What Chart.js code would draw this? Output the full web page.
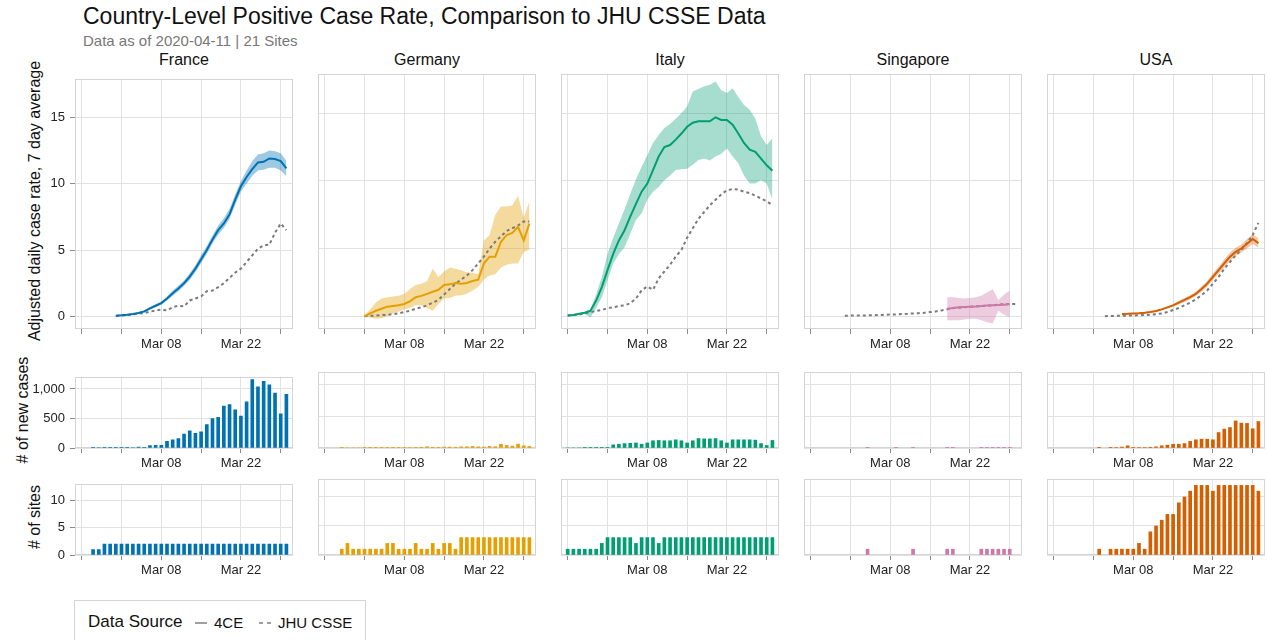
<!DOCTYPE html>
<html>
<head>
<meta charset="utf-8">
<script src="https://cdn.jsdelivr.net/npm/chart.js@4.4.1/dist/chart.umd.min.js"></script>
<style>
  body { margin: 0; width: 1267px; height: 640px; overflow: hidden; background: #fff; position: relative;
         font-family: 'Liberation Sans', Arial, sans-serif; }
  canvas { position: absolute; }
  .txt { position: absolute; white-space: nowrap; line-height: 1; color: #111; }
  .ytitle { position: absolute; width: 300px; height: 16px; line-height: 16px; font-size: 16px;
            text-align: center; transform: rotate(-90deg); white-space: nowrap; color: #111; }
  .facet { position: absolute; width: 218px; text-align: center; font-size: 16px; line-height: 1; top: 52px; color: #111; }
  #legend { position: absolute; left: 74px; top: 600px; width: 290px; height: 60px; border: 1px solid #d4d4d4; }
  .seg { position: absolute; top: 21px; height: 2px; background: #a0a0a0; }
</style>
</head>
<body>
<div class="txt" style="left:83px;top:5px;font-size:23px;">Country-Level Positive Case Rate, Comparison to JHU CSSE Data</div>
<div class="txt" style="left:83px;top:33px;font-size:15px;color:#777;">Data as of 2020-04-11 | 21 Sites</div>

<div class="ytitle" style="left:-115px;top:193px;">Adjusted daily case rate, 7 day average</div>
<div class="ytitle" style="left:-127px;top:402px;"># of new cases</div>
<div class="ytitle" style="left:-115px;top:509px;"># of sites</div>

<div id="legend">
  <div class="txt" style="left:13px;top:12px;font-size:17px;">Data Source</div>
  <div class="seg" style="left:120px;width:12px;"></div>
  <div class="txt" style="left:139px;top:14px;font-size:15px;">4CE</div>
  <div class="seg" style="left:184px;width:4px;"></div>
  <div class="seg" style="left:192px;width:4px;"></div>
  <div class="txt" style="left:203px;top:14px;font-size:15px;">JHU CSSE</div>
</div>

<script>
// x axis: day index, 0 = Feb 23 2020
const tickDays = [0, 7, 14, 21, 28, 35];
const tickLabels = ['', '', 'Mar 08', '', 'Mar 22', ''];

const countries = ['France', 'Germany', 'Italy', 'Singapore', 'USA'];
const countryColors = ['#0072B2', '#E69F00', '#009E73', '#CC79A7', '#D55E00'];
const bandColors = ['rgba(0,114,178,0.38)', 'rgba(230,159,0,0.38)', 'rgba(0,158,115,0.35)',
                    'rgba(204,121,167,0.38)', 'rgba(213,94,0,0.35)'];

// 4CE adjusted daily case rate (7 day avg) with interval, first day of each series
const franceRateStart = 6;
const franceRate = [0.05,0.08,0.12,0.18,0.25,0.38,0.6,0.8,1.0,1.35,1.75,2.1,2.5,3.0,3.6,4.3,5.0,5.8,6.5,7.0,7.7,8.8,9.8,10.5,11.1,11.6,11.65,11.9,11.85,11.7,11.15];
const franceLow = [0.0,0.03,0.07,0.12,0.18,0.3,0.5,0.7,0.88,1.2,1.55,1.9,2.3,2.75,3.35,4.0,4.7,5.5,6.15,6.65,7.35,8.4,9.4,10.0,10.6,11.0,11.05,11.2,11.2,11.0,10.55];
const franceHigh = [0.1,0.13,0.17,0.24,0.32,0.46,0.7,0.92,1.12,1.5,1.95,2.3,2.7,3.25,3.85,4.6,5.3,6.1,6.85,7.4,8.1,9.2,10.2,11.0,11.7,12.2,12.3,12.5,12.45,12.3,11.7];

const germanyRateStart = 7;
const germanyRate = [0.0,0.2,0.4,0.55,0.7,0.75,0.8,0.9,1.1,1.4,1.5,1.65,1.8,1.95,2.3,2.35,2.45,2.4,2.45,2.6,2.7,3.9,4.4,4.4,5.5,6.0,6.15,6.6,5.6,6.85];
const germanyLow = [0.0,-0.1,-0.2,-0.15,0.0,0.2,0.35,0.5,0.6,0.8,0.8,0.6,0.4,0.9,1.3,1.35,1.5,1.55,1.65,1.9,2.15,2.7,3.0,3.1,3.6,3.8,3.9,3.9,4.75,4.9];
const germanyHigh = [0.05,0.5,1.0,1.3,1.4,1.45,1.5,1.65,2.0,2.3,2.4,2.6,3.5,2.9,3.3,3.6,3.5,3.4,3.25,3.2,3.1,5.6,6.0,7.5,8.1,8.1,8.2,8.9,7.3,8.5];

const italyRateStart = 0;
const italyRate = [0.05,0.08,0.17,0.25,0.4,1.15,2.15,3.4,4.6,5.6,6.35,7.35,8.3,9.2,9.8,10.8,11.8,12.5,12.65,13.05,13.5,14.0,14.3,14.4,14.4,14.4,14.7,14.5,14.5,14.15,13.5,12.8,12.3,12.15,11.65,11.15,10.75];
const italyLow = [0.0,0.03,0.1,0.15,-0.1,0.6,1.4,2.65,3.9,4.6,5.1,6.1,7.1,7.6,8.6,9.2,9.55,10.05,10.4,10.8,10.85,10.9,11.2,11.55,11.65,11.5,11.8,12.0,12.4,11.8,11.3,10.4,9.8,9.8,10.05,9.8,8.6];
const italyHigh = [0.1,0.12,0.22,0.32,0.5,1.6,2.9,4.6,5.8,6.85,7.9,9.05,10.1,11.05,11.9,12.8,13.4,13.9,14.2,14.6,15.0,15.5,16.6,16.8,17.0,17.1,17.35,16.7,16.5,16.85,16.2,15.6,15.25,14.6,13.3,12.65,13.15];

const singaporeRateStart = 24;
const singaporeRate = [0.55,0.6,0.65,0.68,0.7,0.72,0.75,0.78,0.8,0.82,0.85,0.88];
const singaporeLow = [-0.3,-0.3,-0.3,-0.25,-0.2,-0.2,-0.3,-0.45,-0.55,0.4,0.1,-0.1];
const singaporeHigh = [1.4,1.4,1.35,1.3,1.35,1.4,1.5,1.75,2.0,1.2,1.6,1.9];

const usaRateStart = 12;
const usaRate = [0.15,0.17,0.2,0.22,0.25,0.3,0.38,0.5,0.65,0.8,1.0,1.2,1.4,1.65,2.0,2.4,2.9,3.4,3.9,4.4,4.75,5.0,5.35,5.7,5.4];
const usaLow = [0.1,0.12,0.15,0.17,0.2,0.25,0.32,0.44,0.58,0.7,0.88,1.05,1.25,1.5,1.8,2.2,2.65,3.15,3.6,4.1,4.45,4.7,5.0,5.35,5.05];
const usaHigh = [0.2,0.22,0.25,0.27,0.3,0.35,0.44,0.56,0.72,0.9,1.12,1.35,1.55,1.8,2.2,2.6,3.15,3.65,4.2,4.7,5.05,5.3,5.7,6.05,5.75];

// JHU CSSE rate
const franceJhuStart = 6;
const franceJhu = [0.03,0.06,0.1,0.15,0.2,0.25,0.35,0.45,0.5,0.45,0.7,0.8,0.75,1.2,1.35,1.5,1.9,1.95,2.2,2.5,2.9,3.3,3.6,4.1,4.6,5.1,5.35,5.4,6.3,7.0,6.5];
const germanyJhuStart = 7;
const germanyJhu = [0.0,0.02,0.05,0.08,0.1,0.15,0.2,0.3,0.4,0.55,0.65,0.8,1.0,1.2,1.6,2.0,2.4,2.7,3.0,3.4,3.9,4.4,5.0,5.5,5.9,6.3,6.5,6.7,7.0,7.0];
const italyJhuStart = 0;
const italyJhu = [0.05,0.08,0.12,0.2,0.3,0.38,0.45,0.6,0.65,0.75,0.8,0.95,1.3,1.9,2.2,1.95,2.8,3.3,3.8,4.4,4.9,5.8,6.5,7.2,7.7,8.2,8.6,9.0,9.3,9.4,9.35,9.2,9.1,8.9,8.7,8.5,8.2];
const singaporeJhuStart = 6;
const singaporeJhu = [0.03,0.04,0.05,0.05,0.06,0.07,0.08,0.1,0.12,0.13,0.15,0.17,0.2,0.22,0.25,0.3,0.35,0.42,0.5,0.6,0.62,0.65,0.7,0.72,0.75,0.78,0.8,0.85,0.88,0.9,0.9];
const usaJhuStart = 9;
const usaJhu = [0.0,0.01,0.02,0.03,0.04,0.05,0.06,0.08,0.1,0.15,0.2,0.3,0.45,0.6,0.8,1.0,1.25,1.55,1.9,2.4,2.9,3.5,4.0,4.5,4.9,5.4,6.0,6.9];

// # of new cases and # of sites (same first day per country)
const franceCountStart = 2;
const franceCases = [5,8,3,10,12,5,5,8,15,12,40,45,45,115,140,160,235,290,250,275,395,500,520,710,735,645,540,780,1157,1036,1130,1068,930,580,910];
const franceSites = [1,1,2,2,2,2,2,2,2,2,2,2,2,2,2,2,2,2,2,2,2,2,2,2,2,2,2,2,2,2,2,2,2,2,2];
const germanyCountStart = 3;
const germanyCases = [1,0,0,0,3,4,5,5,6,4,5,6,8,10,12,20,12,10,15,14,12,18,20,25,18,15,25,20,60,40,30,60,35,25];
const germanySites = [1,2,1,1,1,1,1,1,2,2,1,1,1,2,1,1,2,1,2,2,1,3,3,3,3,3,3,3,3,3,3,3,3,3];
const italyCountStart = 0;
const italyCases = [0,0,0,2,3,3,4,5,50,60,70,75,80,60,80,115,120,115,115,130,115,80,115,150,145,145,150,115,80,130,130,130,130,125,70,40,120];
const italySites = [1,1,1,1,1,1,2,3,3,3,3,3,2,3,3,3,2,3,3,3,3,3,3,3,3,3,3,3,3,3,3,3,3,3,3,3,3];
const singaporeCountStart = 10;
const singaporeCases = [3,null,null,null,null,2,null,null,3,null,null,null,null,null,4,4,null,null,null,null,4,5,5,5,4,4];
const singaporeSites = [1,null,null,null,null,null,null,null,1,null,null,null,null,null,1,1,null,null,null,null,1,1,1,1,1,1];
const usaCountStart = 8;
const usaCases = [5,null,5,8,15,35,10,8,8,12,18,35,45,60,60,70,105,130,140,140,130,245,300,325,430,395,390,305,420];
const usaSites = [1,null,1,1,1,1,1,2,1,4,5,6,7,7,9,10,11,12,12,12,11,12,12,12,12,12,12,12,11];

const rateStarts = [franceRateStart, germanyRateStart, italyRateStart, singaporeRateStart, usaRateStart];
const rates = [franceRate, germanyRate, italyRate, singaporeRate, usaRate];
const rateLows = [franceLow, germanyLow, italyLow, singaporeLow, usaLow];
const rateHighs = [franceHigh, germanyHigh, italyHigh, singaporeHigh, usaHigh];
const jhuStarts = [franceJhuStart, germanyJhuStart, italyJhuStart, singaporeJhuStart, usaJhuStart];
const jhuRates = [franceJhu, germanyJhu, italyJhu, singaporeJhu, usaJhu];
const countStarts = [franceCountStart, germanyCountStart, italyCountStart, singaporeCountStart, usaCountStart];
const newCases = [franceCases, germanyCases, italyCases, singaporeCases, usaCases];
const siteCounts = [franceSites, germanySites, italySites, singaporeSites, usaSites];

// layout
const xMin = -1.18, xMax = 37.16;
const panelW = 218;
const panelLeft = col => 75 + 243 * col;
const rows = [
  { top: 74, height: 255, min: -0.95, max: 17.9, yTicks: [0, 5, 10, 15] },
  { top: 372, height: 76, min: 0, max: 1206, yTicks: [0, 500, 1000] },
  { top: 479, height: 76, min: 0, max: 13.1, yTicks: [0, 5, 10] }
];
const padT = 8, padR = 8, axisH = 30;
const gridColor = '#e2e2e2';
const tickColor = '#8a8a8a';

Chart.defaults.font.family = "'Liberation Sans', Arial, sans-serif";
Chart.defaults.color = '#222';

const frame = {
  id: 'frame',
  beforeDatasetsDraw(chart) {
    const a = chart.chartArea, ctx = chart.ctx;
    ctx.save();
    ctx.strokeStyle = '#d4d4d4';
    ctx.lineWidth = 1;
    ctx.strokeRect(Math.round(a.left) + 0.5, Math.round(a.top) + 0.5,
                   Math.round(a.right - a.left) - 1, Math.round(a.bottom - a.top) - 1);
    ctx.restore();
  }
};

function xy(start, values) {
  return values.map((v, i) => ({ x: start + i, y: v }));
}

function scales(r, col) {
  const first = col === 0;
  return {
    x: {
      type: 'linear', min: xMin, max: xMax, bounds: 'data', offset: false,
      afterBuildTicks: s => { s.ticks = tickDays.map(v => ({ value: v })); },
      afterFit: s => { s.height = axisH; },
      border: { display: false },
      grid: { color: gridColor, tickColor: tickColor, tickLength: 5, offset: false },
      ticks: { autoSkip: false, maxRotation: 0, padding: 3, font: { size: 13 },
               callback: v => tickLabels[tickDays.indexOf(v)] || '' }
    },
    y: {
      type: 'linear', min: r.min, max: r.max, bounds: 'data',
      afterBuildTicks: s => { s.ticks = r.yTicks.map(v => ({ value: v })); },
      afterFit: s => { s.width = first ? 45 : 0; },
      border: { display: false },
      grid: { color: gridColor, tickColor: tickColor, tickLength: 5, drawTicks: first },
      ticks: { display: first, padding: 5, font: { size: 13 },
               callback: v => v.toLocaleString('en-US') }
    }
  };
}

function makeCanvas(rowIdx, col) {
  const r = rows[rowIdx];
  const yW = col === 0 ? 45 : 0;
  const c = document.createElement('canvas');
  c.width = yW + panelW + padR;
  c.height = padT + r.height + axisH;
  c.style.left = (panelLeft(col) - yW) + 'px';
  c.style.top = (r.top - padT) + 'px';
  document.body.appendChild(c);
  return c;
}

function baseOptions(rowIdx, col) {
  return {
    responsive: false, animation: false, events: [],
    layout: { padding: { top: padT, right: padR, left: 0, bottom: 0 } },
    plugins: { legend: { display: false }, tooltip: { enabled: false } },
    scales: scales(rows[rowIdx], col)
  };
}

countries.forEach((name, i) => {
  const lbl = document.createElement('div');
  lbl.className = 'facet';
  lbl.style.left = panelLeft(i) + 'px';
  lbl.textContent = name;
  document.body.appendChild(lbl);

  // row 1: case rate lines
  new Chart(makeCanvas(0, i), {
    type: 'line',
    data: {
      datasets: [
        { data: xy(rateStarts[i], rates[i]), borderColor: countryColors[i], borderWidth: 2,
          pointRadius: 0, fill: false, tension: 0 },
        { data: xy(jhuStarts[i], jhuRates[i]), borderColor: '#7a7a7a', borderWidth: 2, borderDash: [3, 3],
          pointRadius: 0, fill: false, tension: 0 },
        { data: xy(rateStarts[i], rateHighs[i]), borderColor: 'transparent', borderWidth: 0,
          pointRadius: 0, backgroundColor: bandColors[i], fill: '+1', tension: 0 },
        { data: xy(rateStarts[i], rateLows[i]), borderColor: 'transparent', borderWidth: 0,
          pointRadius: 0, fill: false, tension: 0 }
      ]
    },
    options: baseOptions(0, i),
    plugins: [frame]
  });

  // row 2: new cases, row 3: sites
  [newCases[i], siteCounts[i]].forEach((vals, k) => {
    new Chart(makeCanvas(k + 1, i), {
      type: 'bar',
      data: {
        datasets: [{ data: xy(countStarts[i], vals), backgroundColor: countryColors[i], barThickness: 3 }]
      },
      options: baseOptions(k + 1, i),
      plugins: [frame]
    });
  });
});
</script>
</body>
</html>
